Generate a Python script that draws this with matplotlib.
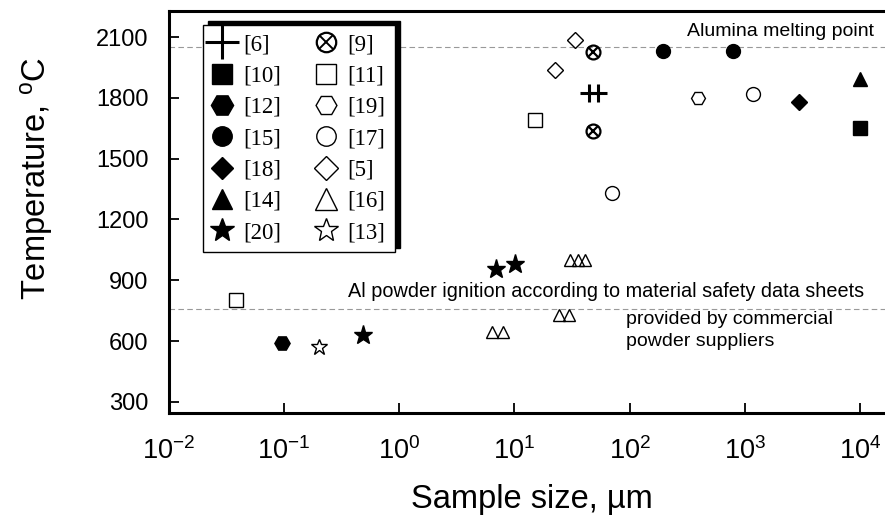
"""
Ignition temperature of aluminium vs. sample size, collected from the literature.
"""

# -----------------------------------------------------------------------------
# imports

import matplotlib
matplotlib.use("Agg")
import matplotlib.pyplot as plt
from matplotlib.lines import Line2D
from matplotlib.patches import Rectangle

# -----------------------------------------------------------------------------
# data (sample size in um, temperature in C), one pair of lists per reference

ref6_x, ref6_y = [44, 53], [1827, 1827]
ref9_x, ref9_y = [48, 48], [2025, 1638]
ref10_x, ref10_y = [1.0e4], [1651]
ref11_x, ref11_y = [0.0385, 15], [800, 1690]
ref12_x, ref12_y = [0.097], [590]
ref19_x, ref19_y = [390], [1800]
ref15_x, ref15_y = [195, 780], [2030, 2030]
ref17_x, ref17_y = [70, 1180], [1333, 1819]
ref18_x, ref18_y = [2950], [1781]
ref5_x, ref5_y = [22.5, 33.6], [1936, 2084]
ref14_x, ref14_y = [1.0e4], [1895]
ref16_x = [6.35, 7.9, 24.5, 29.9, 30.4, 35.4, 40.9]
ref16_y = [646, 646, 728, 728, 1000, 1000, 1000]
ref20_x, ref20_y = [0.49, 6.9, 10.1], [630, 954, 979]
ref13_x, ref13_y = [0.2], [572]

alumina_melting = 2054
msds_ignition = 760

x_ticks = [1e-2, 1e-1, 1e0, 1e1, 1e2, 1e3, 1e4]
y_ticks = [300, 600, 900, 1200, 1500, 1800, 2100]

# -----------------------------------------------------------------------------
# styles

plt.rcParams['font.family'] = ['Liberation Sans', 'DejaVu Sans']
plt.rcParams['mathtext.fontset'] = 'custom'
plt.rcParams['mathtext.rm'] = 'Liberation Sans'
plt.rcParams['mathtext.it'] = 'Liberation Sans:italic'
plt.rcParams['axes.unicode_minus'] = False

FILLED = dict(color='black', mec='black', mfc='black', ls='none')
OPEN = dict(color='black', mec='black', mfc='none', ls='none', mew=1.0)

# label, x, y, marker, style, plot size, legend size
series = [
    ('[6]', ref6_x, ref6_y, '+', dict(FILLED, mew=2.2), 13, 24),
    ('[10]', ref10_x, ref10_y, 's', FILLED, 10, 14),
    ('[12]', ref12_x, ref12_y, 'H', FILLED, 11, 16),
    ('[15]', ref15_x, ref15_y, 'o', FILLED, 10, 14),
    ('[18]', ref18_x, ref18_y, 'D', FILLED, 8, 11),
    ('[14]', ref14_x, ref14_y, '^', FILLED, 10, 14),
    ('[20]', ref20_x, ref20_y, '*', FILLED, 14, 18),
    ('[9]', ref9_x, ref9_y, 'o', dict(OPEN, mew=1.6), 10, 14),
    ('[11]', ref11_x, ref11_y, 's', OPEN, 10, 14),
    ('[19]', ref19_x, ref19_y, 'H', OPEN, 10, 15),
    ('[17]', ref17_x, ref17_y, 'o', OPEN, 10, 14),
    ('[5]', ref5_x, ref5_y, 'D', OPEN, 8, 12),
    ('[16]', ref16_x, ref16_y, '^', OPEN, 9, 16),
    ('[13]', ref13_x, ref13_y, '*', OPEN, 12, 18),
]

# -----------------------------------------------------------------------------

W, H = 885, 523
fig = plt.figure(figsize=(W / 100, H / 100), dpi=100)
ax = fig.add_axes([168.5 / W, 109.7 / H, 726.4 / W, 402.6 / H])

handles, labels = [], []
for label, xs, ys, marker, style, size, leg_size in series:
    ax.plot(xs, ys, marker=marker, ms=size, zorder=3, **style)
    h = Line2D([], [], marker=marker, ms=leg_size, **style)
    if label == '[9]':
        # crossed circle: draw an x inside the open circle
        ax.plot(xs, ys, marker='x', ms=size * 0.68, mew=1.6, color='black',
                ls='none', zorder=3)
        h = (h, Line2D([], [], marker='x', ms=leg_size * 0.68, mew=1.4,
                       color='black', ls='none'))
    handles.append(h)
    labels.append(label)

# reference lines
ax.axhline(alumina_melting, color='#999999', lw=0.8, ls=(0, (5, 3)), zorder=1)
ax.axhline(msds_ignition, color='#999999', lw=0.8, ls=(0, (5, 3)), zorder=1)

ax.text(1.315e4, 2104, 'Alumina melting point', ha='right', va='baseline',
        fontsize=14)
ax.text(0.36, 819, 'Al powder ignition according to material safety data sheets',
        ha='left', va='baseline', fontsize=14.3)
ax.text(93, 684, 'provided by commercial', ha='left', va='baseline', fontsize=14)
ax.text(93, 573, 'powder suppliers', ha='left', va='baseline', fontsize=14)

# axes
ax.set_xscale('log')
ax.set_xlim(1e-2, 10 ** 4.3)
ax.set_ylim(243, 2231)
ax.set_xticks(x_ticks)
ax.xaxis.set_minor_locator(matplotlib.ticker.NullLocator())
ax.set_yticks(y_ticks)

for side in ['left', 'bottom', 'top', 'right']:
    ax.spines[side].set_linewidth(2.2)
ax.tick_params(axis='both', direction='in', length=7, width=1.3)
ax.tick_params(axis='x', labelsize=19.5, pad=17)
ax.tick_params(axis='y', labelsize=17, pad=14.5)

ax.set_xlabel('Sample size, µm', fontsize=23.5, labelpad=14)
ax.set_ylabel('Temperature, $^{\\mathrm{o}}$C', fontsize=23.5)
ax.yaxis.set_label_coords(-0.1567, 0.584)

# legend, two columns, with a solid shadow up and to the right
leg = ax.legend(handles, labels, ncol=2, loc='upper left',
                bbox_to_anchor=(0.0471, 0.9645), borderaxespad=0,
                prop={'family': 'Liberation Serif', 'size': 16.5},
                fancybox=False, framealpha=1, edgecolor='black',
                handlelength=0.9, handletextpad=0.48, columnspacing=1.5,
                labelspacing=0.45, borderpad=0.4)
leg.get_frame().set_linewidth(1.0)
leg.set_zorder(5)

fig.canvas.draw()
bb = leg.get_window_extent()
inv = ax.transAxes.inverted()
(x0, y0), (x1, y1) = inv.transform([(bb.x0 + 5, bb.y0 + 4), (bb.x1 + 5, bb.y1 + 4)])
ax.add_patch(Rectangle((x0, y0), x1 - x0, y1 - y0, transform=ax.transAxes,
                       facecolor='black', edgecolor='black', zorder=4.9,
                       clip_on=False))

fig.savefig('out.png', dpi=100)
